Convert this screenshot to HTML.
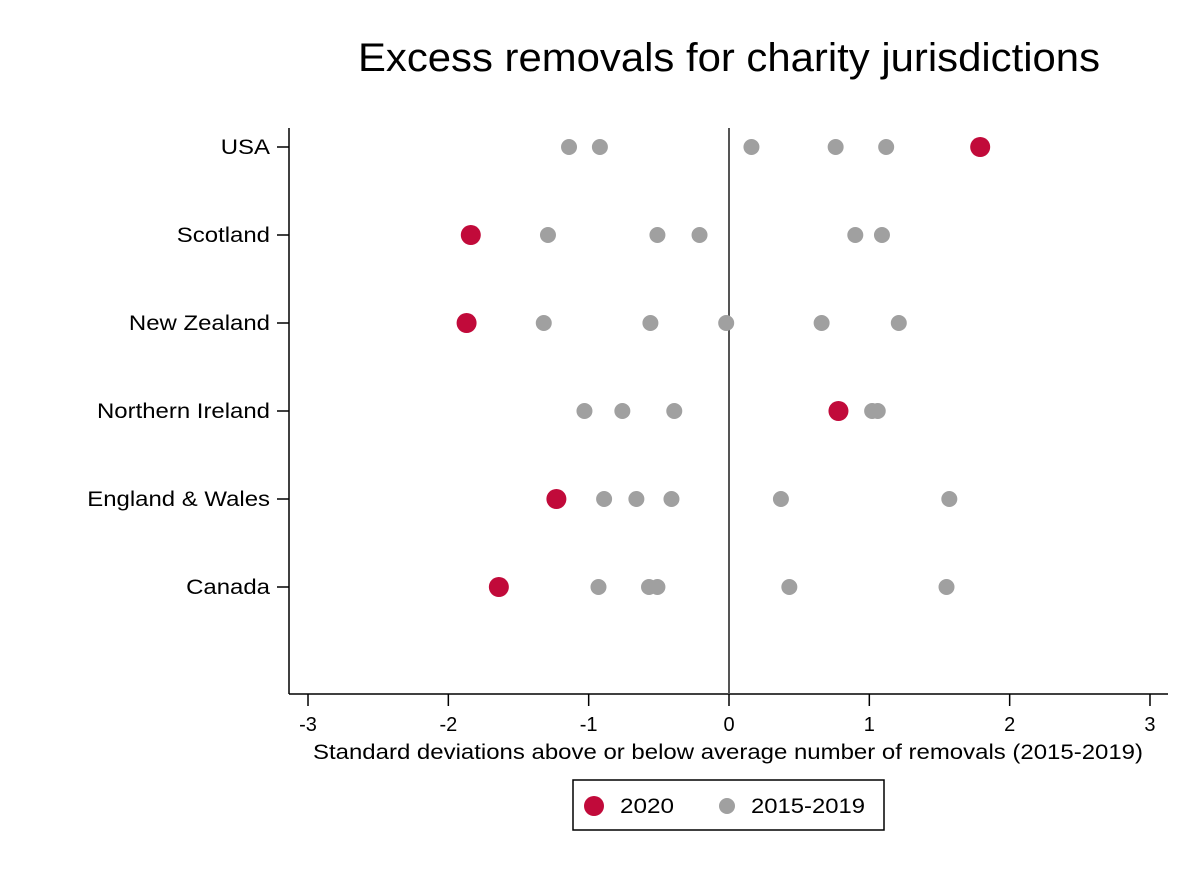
<!DOCTYPE html>
<html><head><meta charset="utf-8"><style>
body{margin:0;background:#fff;}
svg{display:block;font-family:"Liberation Sans",Arial,sans-serif;}
</style></head><body>
<svg id="chart" width="1200" height="873">
<text x="358" y="71" font-size="40" textLength="742" lengthAdjust="spacingAndGlyphs" fill="#000">Excess removals for charity jurisdictions</text>
<g id="axes"></g>
<g id="marks"></g>
<g>
<rect x="573" y="780" width="311" height="50" fill="#fff" stroke="#000" stroke-width="1.5"/>
<circle cx="594" cy="806" r="10" fill="#C10A3A"/>
<text x="620" y="813" font-size="21" textLength="54" lengthAdjust="spacingAndGlyphs">2020</text>
<circle cx="727" cy="806" r="8" fill="#A0A0A0"/>
<text x="751" y="813" font-size="21" textLength="114" lengthAdjust="spacingAndGlyphs">2015-2019</text>
</g>
</svg>
<script>
const categories=["USA","Scotland","New Zealand","Northern Ireland","England & Wales","Canada"];
const values2020=[1.79,-1.84,-1.87,0.78,-1.23,-1.64];
const valuesPast=[
[-1.14,-0.92,0.16,0.76,1.12],
[-1.29,-0.51,-0.21,0.90,1.09],
[-1.32,-0.56,-0.02,0.66,1.21],
[-1.03,-0.76,-0.39,1.02,1.06],
[-0.89,-0.66,-0.41,0.37,1.57],
[-0.93,-0.57,-0.51,0.43,1.55]];
const xTicks=[-3,-2,-1,0,1,2,3];
const NS="http://www.w3.org/2000/svg";
const xs=v=>729+v*140.33;
const ys=i=>147+i*88;
function mk(tag,attrs,parent,text){const e=document.createElementNS(NS,tag);for(const k in attrs)e.setAttribute(k,attrs[k]);if(text!==undefined)e.textContent=text;parent.appendChild(e);return e;}
const ax=document.getElementById('axes'),mg=document.getElementById('marks');
let e=mk('line',{x1:289,y1:128,x2:289,y2:694,stroke:'#000','stroke-width':1.5},ax);


e=mk('line',{x1:289,y1:694,x2:1168,y2:694,stroke:'#000','stroke-width':1.5},ax);


e=mk('line',{x1:xs(0),y1:128,x2:xs(0),y2:694,stroke:'#555','stroke-width':2},ax);


xTicks.forEach(t=>{
 let l=mk('line',{x1:xs(t),y1:694,x2:xs(t),y2:706,stroke:'#000','stroke-width':1.5},ax);
 
 
 let tx=mk('text',{x:xs(t),y:731,'font-size':20,'text-anchor':'middle'},ax,String(t));
 
 
});
e=mk('text',{x:313,y:759,'font-size':21,textLength:830,lengthAdjust:'spacingAndGlyphs'},ax,'Standard deviations above or below average number of removals (2015-2019)');


categories.forEach((c,i)=>{
 let l=mk('line',{x1:277,y1:ys(i),x2:289,y2:ys(i),stroke:'#000','stroke-width':1.5},ax);
 
 
 let tx=mk('text',{x:270,y:ys(i)+7,'font-size':21,'text-anchor':'end'},ax,c);
 
 
 const w=tx.getComputedTextLength();
 tx.setAttribute('textLength',w*1.14);
 tx.setAttribute('lengthAdjust','spacingAndGlyphs');
 valuesPast[i].forEach(v=>{
  let p=mk('circle',{cx:xs(v),cy:ys(i),r:8,fill:'#A0A0A0'},mg);
  
  
 });
 let r=mk('circle',{cx:xs(values2020[i]),cy:ys(i),r:10,fill:'#C10A3A'},mg);
 
 
});
</script>
</body></html>
